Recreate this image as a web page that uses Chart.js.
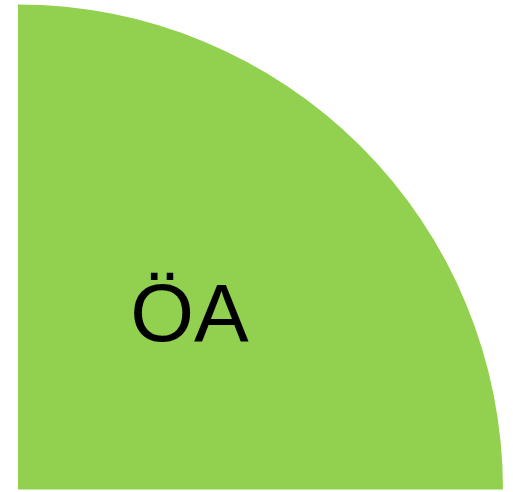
<!DOCTYPE html>
<html>
<head>
<meta charset="utf-8">
<script src="https://cdn.jsdelivr.net/npm/chart.js@4"></script>
<style>
  html, body { margin: 0; padding: 0; background: #ffffff; }
  #wrap { width: 513px; height: 492px; }
</style>
</head>
<body>
<div id="wrap"><canvas id="c" width="513" height="492"></canvas></div>
<script>
const categories = ['ÖA'];
const values = [100];
const colors = ['#92D050'];

const sliceLabels = {
  id: 'sliceLabels',
  afterDatasetsDraw(chart) {
    const ctx = chart.ctx;
    const meta = chart.getDatasetMeta(0);
    ctx.save();
    ctx.font = '82px "Liberation Sans", Arial, sans-serif';
    ctx.fillStyle = '#000000';
    ctx.textAlign = 'center';
    ctx.textBaseline = 'middle';
    meta.data.forEach((arc, i) => {
      const p = arc.tooltipPosition();
      ctx.fillText(categories[i], p.x, p.y);
    });
    ctx.restore();
  }
};

new Chart(document.getElementById('c'), {
  type: 'pie',
  data: {
    labels: categories,
    datasets: [{
      data: values,
      backgroundColor: colors,
      borderWidth: 0
    }]
  },
  options: {
    responsive: false,
    animation: false,
    rotation: 0,
    circumference: 90,
    layout: { padding: { top: 4, bottom: 2, left: 18, right: 10 } },
    plugins: {
      legend: { display: false },
      tooltip: { enabled: false }
    }
  },
  plugins: [sliceLabels]
});
</script>
</body>
</html>
